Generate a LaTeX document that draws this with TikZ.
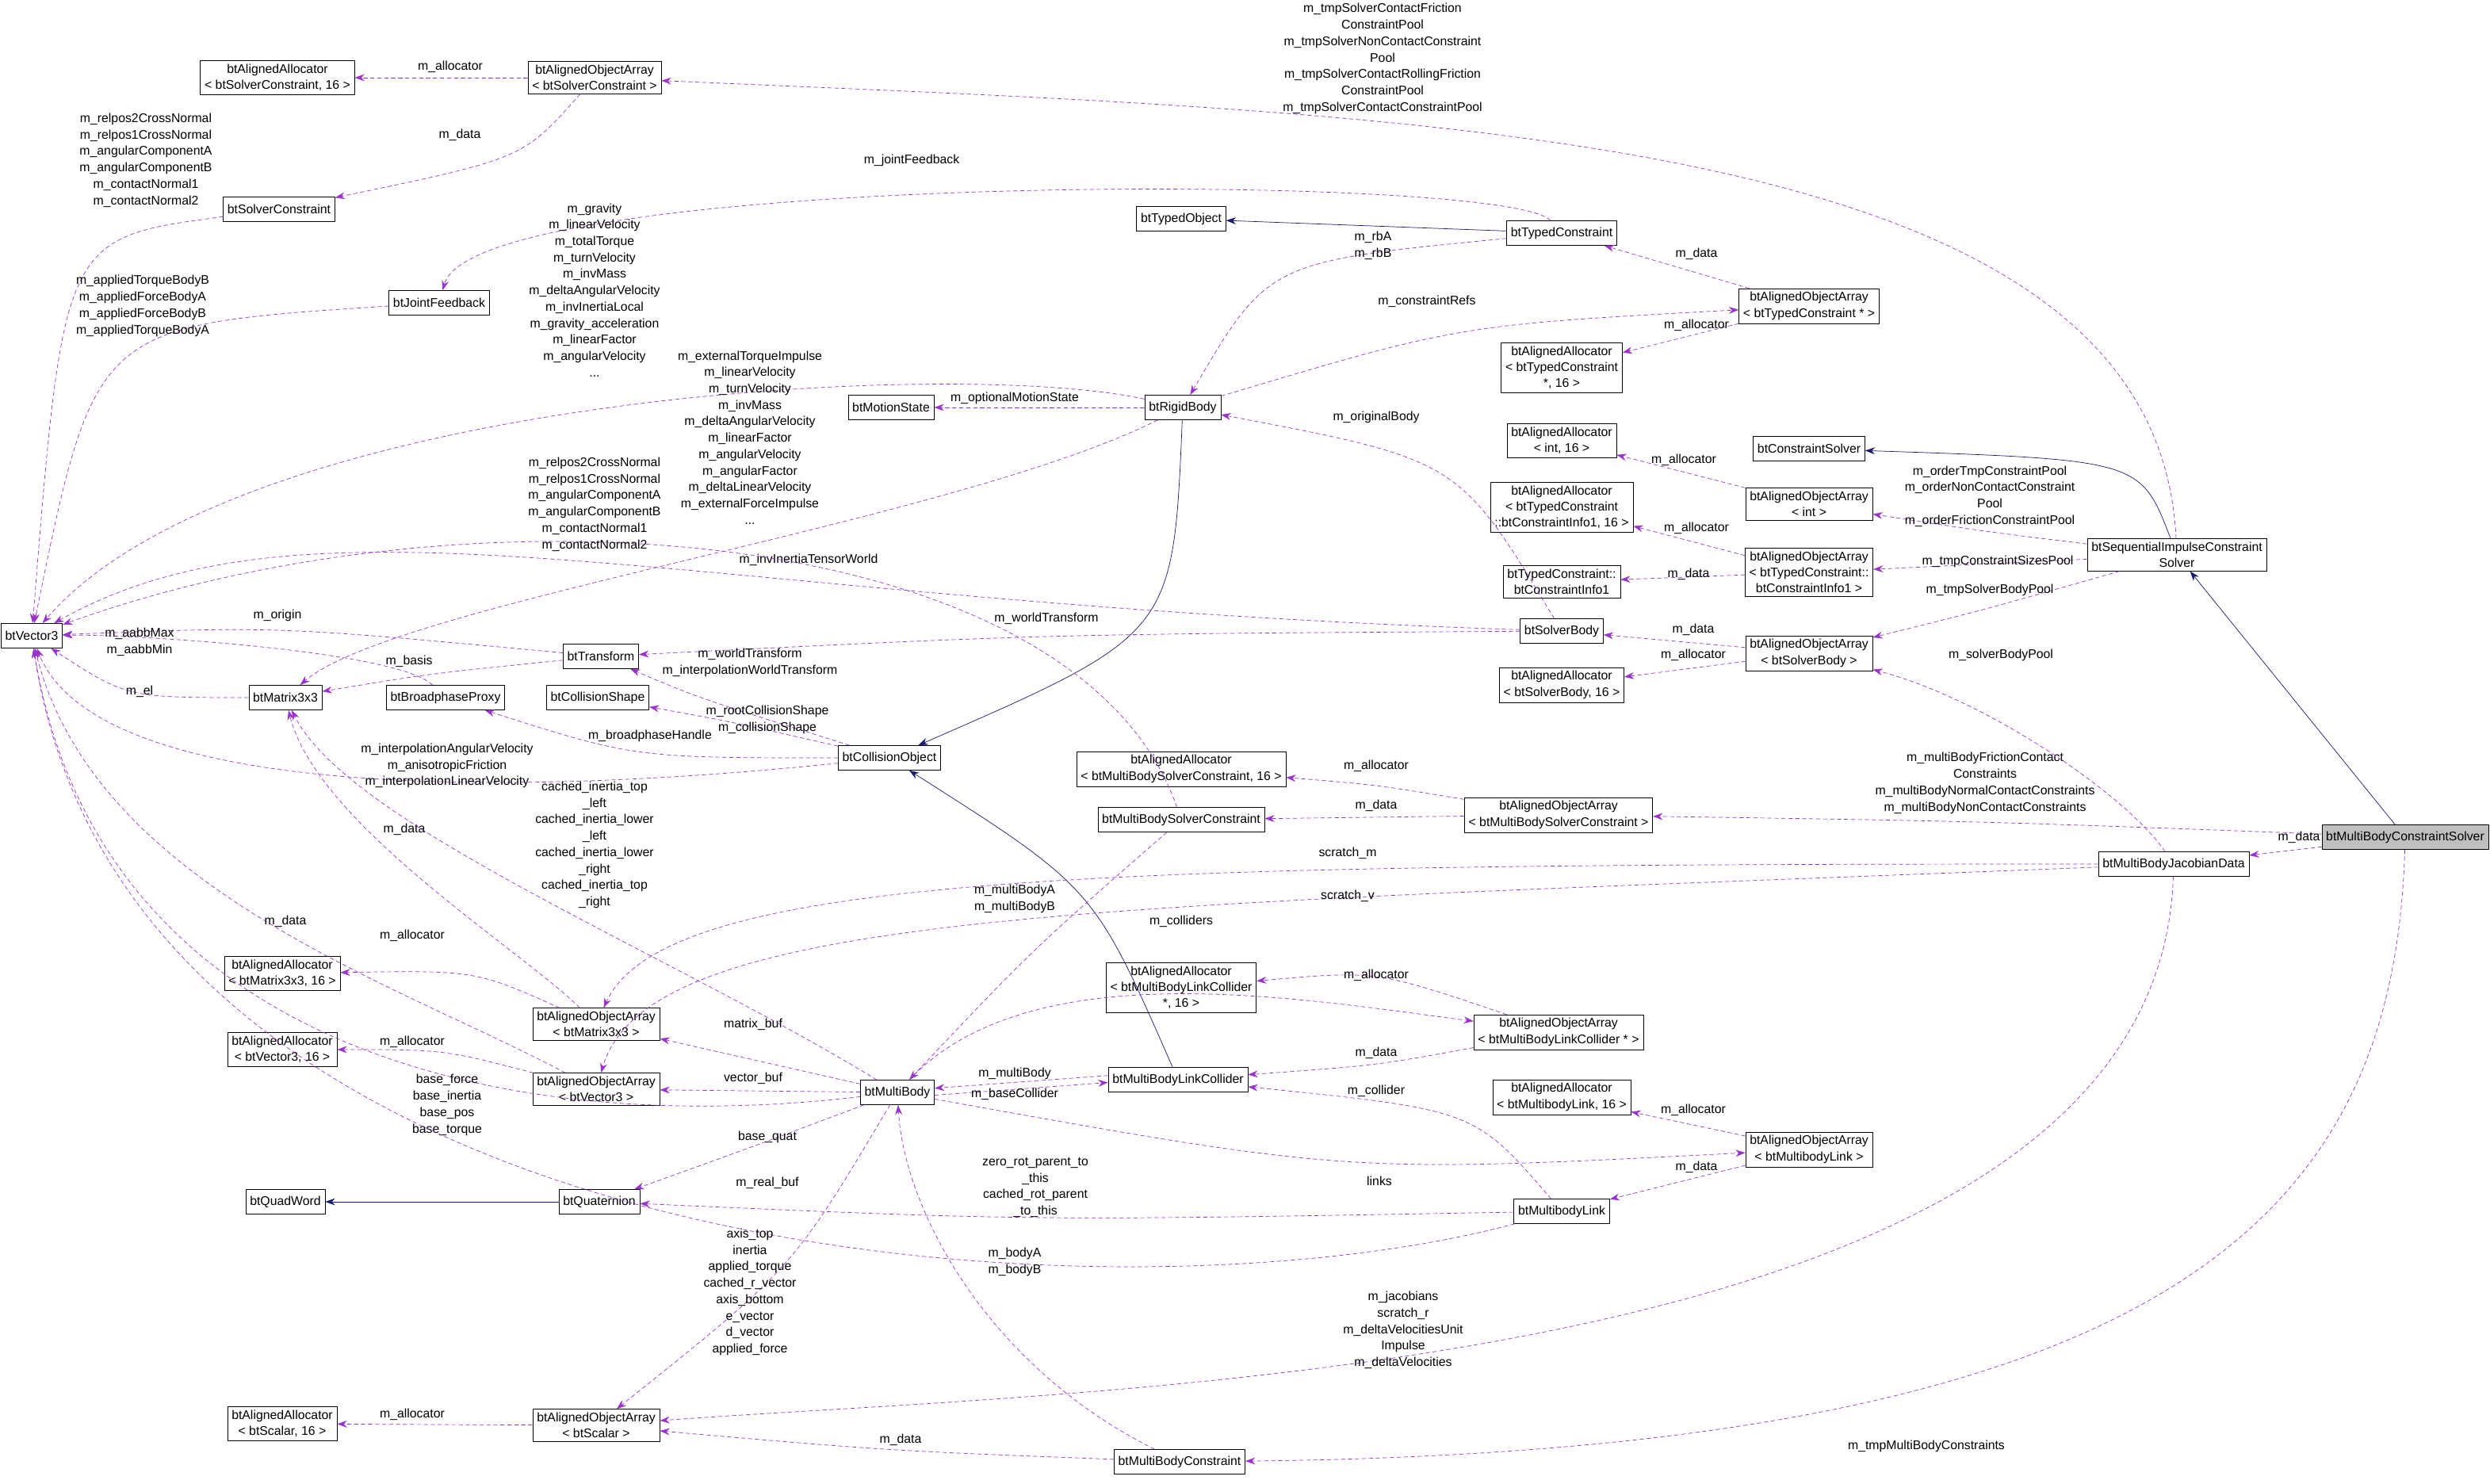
\documentclass[tikz,border=0pt]{standalone}
\usepackage{fontspec}
\setmainfont{Liberation Sans}
\usetikzlibrary{arrows.meta}
\definecolor{depcol}{HTML}{9A32CD}
\definecolor{inhcol}{HTML}{191970}
\tikzset{
  cls/.style={draw, rectangle, align=center, inner xsep=3pt, inner ysep=2.5pt, minimum height=0.62cm, font=\fontsize{9}{11.5}\selectfont},
  lbl/.style={align=center, inner sep=0.5pt, font=\fontsize{9}{11.8}\selectfont},
  dep/.style={draw=depcol, dash pattern=on 3pt off 2pt, -{Stealth[length=7pt,width=5pt]}},
  inh/.style={draw=inhcol, -{Stealth[length=7pt,width=5pt]}},
}
\begin{document}
\begin{tikzpicture}[x=0.04cm, y=-0.04cm]
\useasboundingbox (0,0) rectangle (1570.5,936);
% classes
\node[cls] (vec3) at (20,401) {btVector3};
\node[cls] (aaSolverConstraint) at (175,49) {btAlignedAllocator\\< btSolverConstraint, 16 >};
\node[cls] (aoaSolverConstraint) at (375,49) {btAlignedObjectArray\\< btSolverConstraint >};
\node[cls] (solverConstraint) at (176,132) {btSolverConstraint};
\node[cls] (jointFeedback) at (277,191) {btJointFeedback};
\node[cls] (typedObject) at (745,138) {btTypedObject};
\node[cls] (typedConstraint) at (985,147) {btTypedConstraint};
\node[cls] (aoaTypedConstraint) at (1141,193) {btAlignedObjectArray\\< btTypedConstraint * >};
\node[cls] (aaTypedConstraint) at (985,232) {btAlignedAllocator\\< btTypedConstraint\\*, 16 >};
\node[cls] (motionState) at (562,257) {btMotionState};
\node[cls] (rigidBody) at (746,257) {btRigidBody};
\node[cls] (aaInt) at (985,278) {btAlignedAllocator\\< int, 16 >};
\node[cls] (constraintSolver) at (1141,283) {btConstraintSolver};
\node[cls] (aoaInt) at (1141,318) {btAlignedObjectArray\\< int >};
\node[cls] (aaInfo1) at (985,320) {btAlignedAllocator\\< btTypedConstraint\\::btConstraintInfo1, 16 >};
\node[cls] (aoaInfo1) at (1141,361) {btAlignedObjectArray\\< btTypedConstraint::\\btConstraintInfo1 >};
\node[cls] (info1) at (985,367) {btTypedConstraint::\\btConstraintInfo1};
\node[cls] (seqImpulse) at (1373,350) {btSequentialImpulseConstraint\\Solver};
\node[cls] (solverBody) at (985,398) {btSolverBody};
\node[cls] (aoaSolverBody) at (1141,412) {btAlignedObjectArray\\< btSolverBody >};
\node[cls] (aaSolverBody) at (985,432) {btAlignedAllocator\\< btSolverBody, 16 >};
\node[cls] (transform) at (379,414) {btTransform};
\node[cls] (mat3) at (180,440) {btMatrix3x3};
\node[cls] (bpProxy) at (281,440) {btBroadphaseProxy};
\node[cls] (collShape) at (377,440) {btCollisionShape};
\node[cls] (collObject) at (561,478) {btCollisionObject};
\node[cls] (aaMbSolverConstraint) at (745,485) {btAlignedAllocator\\< btMultiBodySolverConstraint, 16 >};
\node[cls] (mbSolverConstraint) at (745,517) {btMultiBodySolverConstraint};
\node[cls] (aoaMbSolverConstraint) at (983,514) {btAlignedObjectArray\\< btMultiBodySolverConstraint >};
\node[cls, fill=black!25] (mbConstraintSolver) at (1517,528) {btMultiBodyConstraintSolver};
\node[cls] (jacobianData) at (1371,545) {btMultiBodyJacobianData};
\node[cls] (aaMat3) at (178,614) {btAlignedAllocator\\< btMatrix3x3, 16 >};
\node[cls] (aoaMat3) at (376,646) {btAlignedObjectArray\\< btMatrix3x3 >};
\node[cls] (aaLinkCollider) at (745,623) {btAlignedAllocator\\< btMultiBodyLinkCollider\\*, 16 >};
\node[cls] (aoaLinkCollider) at (983,651) {btAlignedObjectArray\\< btMultiBodyLinkCollider * >};
\node[cls] (aaVec3) at (178,662) {btAlignedAllocator\\< btVector3, 16 >};
\node[cls] (aoaVec3) at (376,687) {btAlignedObjectArray\\< btVector3 >};
\node[cls] (multiBody) at (566,689) {btMultiBody};
\node[cls] (linkCollider) at (743,681) {btMultiBodyLinkCollider};
\node[cls] (aaLink) at (985,692) {btAlignedAllocator\\< btMultibodyLink, 16 >};
\node[cls] (aoaLink) at (1141,725) {btAlignedObjectArray\\< btMultibodyLink >};
\node[cls] (quadWord) at (180,758) {btQuadWord};
\node[cls] (quaternion) at (378,758) {btQuaternion};
\node[cls] (mbLink) at (985,764) {btMultibodyLink};
\node[cls] (aaScalar) at (178,898) {btAlignedAllocator\\< btScalar, 16 >};
\node[cls] (aoaScalar) at (376,899) {btAlignedObjectArray\\< btScalar >};
\node[cls] (mbConstraint) at (744,922) {btMultiBodyConstraint};
% inheritance
\draw[inh] (typedConstraint) -- (typedObject);
\draw[inh] (rigidBody) .. controls (740,400) .. (collObject);
\draw[inh] (seqImpulse) .. controls (1350,290) .. (constraintSolver);
\draw[inh] (mbConstraintSolver) -- (seqImpulse);
\draw[inh] (linkCollider) .. controls (690,560) .. (collObject);
\draw[inh] (quaternion) -- (quadWord);
% members
\draw[dep] (aoaSolverConstraint) -- (aaSolverConstraint);
\node[lbl] (l1) at (284,42) {m\_allocator};
\draw[dep] (aoaSolverConstraint) .. controls (330,100) .. (solverConstraint);
\node[lbl] (l2) at (290,85) {m\_data};
\draw[dep] (solverConstraint) .. controls (40,150) .. (vec3);
\node[lbl] (l3) at (92,101) {m\_relpos2CrossNormal\\m\_relpos1CrossNormal\\m\_angularComponentA\\m\_angularComponentB\\m\_contactNormal1\\m\_contactNormal2};
\draw[dep] (jointFeedback) .. controls (60,205) .. (vec3);
\node[lbl] (l4) at (90,193) {m\_appliedTorqueBodyB\\m\_appliedForceBodyA\\m\_appliedForceBodyB\\m\_appliedTorqueBodyA};
\draw[dep] (typedConstraint) .. controls (950,108) and (300,108) .. (jointFeedback);
\node[lbl] (l5) at (575,101) {m\_jointFeedback};
\draw[dep] (typedConstraint) .. controls (800,165) .. (rigidBody);
\node[lbl] (l6) at (866,155) {m\_rbA\\m\_rbB};
\draw[dep] (aoaTypedConstraint) -- (typedConstraint);
\node[lbl] (l7) at (1070,160) {m\_data};
\draw[dep] (aoaTypedConstraint) -- (aaTypedConstraint);
\node[lbl] (l8) at (1070,205) {m\_allocator};
\draw[dep] (rigidBody) .. controls (920,205) .. (aoaTypedConstraint);
\node[lbl] (l9) at (900,190) {m\_constraintRefs};
\draw[dep] (rigidBody) -- (motionState);
\node[lbl] (l10) at (640,251) {m\_optionalMotionState};
\draw[dep] (rigidBody) .. controls (600,225) and (150,250) .. (vec3);
\node[lbl] (l11) at (375,183) {m\_gravity\\m\_linearVelocity\\m\_totalTorque\\m\_turnVelocity\\m\_invMass\\m\_deltaAngularVelocity\\m\_invInertiaLocal\\m\_gravity\_acceleration\\m\_linearFactor\\m\_angularVelocity\\...};
\draw[dep] (rigidBody) .. controls (600,330) and (250,380) .. (mat3);
\node[lbl] (l12) at (510,353) {m\_invInertiaTensorWorld};
\draw[dep] (solverBody) .. controls (920,290) .. (rigidBody);
\node[lbl] (l13) at (868,263) {m\_originalBody};
\draw[dep] (solverBody) .. controls (430,380) and (200,300) .. (vec3);
\node[lbl] (l14) at (473,276) {m\_externalTorqueImpulse\\m\_linearVelocity\\m\_turnVelocity\\m\_invMass\\m\_deltaAngularVelocity\\m\_linearFactor\\m\_angularVelocity\\m\_angularFactor\\m\_deltaLinearVelocity\\m\_externalForceImpulse\\...};
\draw[dep] (solverBody) .. controls (660,400) .. (transform);
\node[lbl] (l15) at (660,390) {m\_worldTransform};
\draw[dep] (aoaInt) -- (aaInt);
\node[lbl] (l16) at (1062,290) {m\_allocator};
\draw[dep] (seqImpulse) .. controls (1250,335) .. (aoaInt);
\node[lbl] (l17) at (1255,313) {m\_orderTmpConstraintPool\\m\_orderNonContactConstraint\\Pool\\m\_orderFrictionConstraintPool};
\draw[dep] (seqImpulse) .. controls (1360,80) and (900,72) .. (aoaSolverConstraint);
\node[lbl] (l18) at (872,37) {m\_tmpSolverContactFriction\\ConstraintPool\\m\_tmpSolverNonContactConstraint\\Pool\\m\_tmpSolverContactRollingFriction\\ConstraintPool\\m\_tmpSolverContactConstraintPool};
\draw[dep] (aoaInfo1) -- (aaInfo1);
\node[lbl] (l19) at (1070,333) {m\_allocator};
\draw[dep] (aoaInfo1) -- (info1);
\node[lbl] (l20) at (1065,362) {m\_data};
\draw[dep] (seqImpulse) -- (aoaInfo1);
\node[lbl] (l21) at (1260,354) {m\_tmpConstraintSizesPool};
\draw[dep] (seqImpulse) .. controls (1250,385) .. (aoaSolverBody);
\node[lbl] (l22) at (1255,372) {m\_tmpSolverBodyPool};
\draw[dep] (aoaSolverBody) -- (solverBody);
\node[lbl] (l23) at (1068,397) {m\_data};
\draw[dep] (aoaSolverBody) -- (aaSolverBody);
\node[lbl] (l24) at (1068,413) {m\_allocator};
\draw[dep] (transform) .. controls (175,395) .. (vec3);
\node[lbl] (l25) at (175,388) {m\_origin};
\draw[dep] (transform) .. controls (270,425) .. (mat3);
\node[lbl] (l26) at (258,417) {m\_basis};
\draw[dep] (mat3) .. controls (80,440) .. (vec3);
\node[lbl] (l27) at (88,436) {m\_el};
\draw[dep] (collObject) .. controls (440,440) .. (transform);
\node[lbl] (l28) at (473,418) {m\_worldTransform\\m\_interpolationWorldTransform};
\draw[dep] (collObject) .. controls (460,455) .. (collShape);
\node[lbl] (l29) at (484,454) {m\_rootCollisionShape\\m\_collisionShape};
\draw[dep] (collObject) .. controls (400,478) .. (bpProxy);
\node[lbl] (l30) at (410,464) {m\_broadphaseHandle};
\draw[dep] (collObject) .. controls (300,505) and (60,500) .. (vec3);
\node[lbl] (l31) at (282,483) {m\_interpolationAngularVelocity\\m\_anisotropicFriction\\m\_interpolationLinearVelocity};
\draw[dep] (bpProxy) .. controls (250,410) and (80,400) .. (vec3);
\node[lbl] (l32) at (88,405) {m\_aabbMax\\m\_aabbMin};
\draw[dep] (aoaMbSolverConstraint) .. controls (868,495) .. (aaMbSolverConstraint);
\node[lbl] (l33) at (868,483) {m\_allocator};
\draw[dep] (aoaMbSolverConstraint) -- (mbSolverConstraint);
\node[lbl] (l34) at (868,508) {m\_data};
\draw[dep] (mbConstraintSolver) .. controls (1250,518) .. (aoaMbSolverConstraint);
\node[lbl] (l35) at (1252,494) {m\_multiBodyFrictionContact\\Constraints\\m\_multiBodyNormalContactConstraints\\m\_multiBodyNonContactConstraints};
\draw[dep] (mbConstraintSolver) -- (jacobianData);
\node[lbl] (l36) at (1450,528) {m\_data};
\draw[dep] (mbConstraintSolver) .. controls (1510,760) and (1380,915) .. (mbConstraint);
\node[lbl] (l37) at (1215,912) {m\_tmpMultiBodyConstraints};
\draw[dep] (jacobianData) .. controls (1340,500) and (1250,440) .. (aoaSolverBody);
\node[lbl] (l38) at (1262,413) {m\_solverBodyPool};
\draw[dep] (jacobianData) .. controls (700,545) and (420,550) .. (aoaMat3);
\node[lbl] (l39) at (850,538) {scratch\_m};
\draw[dep] (jacobianData) .. controls (700,572) and (410,572) .. (aoaVec3);
\node[lbl] (l40) at (850,565) {scratch\_v};
\draw[dep] (jacobianData) .. controls (1360,870) and (700,875) .. (aoaScalar);
\node[lbl] (l41) at (885,839) {m\_jacobians\\scratch\_r\\m\_deltaVelocitiesUnit\\Impulse\\m\_deltaVelocities};
\draw[dep] (mbSolverConstraint) .. controls (650,600) .. (multiBody);
\node[lbl] (l42) at (640,567) {m\_multiBodyA\\m\_multiBodyB};
\draw[dep] (mbSolverConstraint) .. controls (680,330) and (300,300) .. (vec3);
\node[lbl] (l43) at (375,318) {m\_relpos2CrossNormal\\m\_relpos1CrossNormal\\m\_angularComponentA\\m\_angularComponentB\\m\_contactNormal1\\m\_contactNormal2};
\draw[dep] (aoaMat3) .. controls (300,612) .. (aaMat3);
\node[lbl] (l44) at (260,590) {m\_allocator};
\draw[dep] (aoaMat3) .. controls (330,600) and (200,520) .. (mat3);
\node[lbl] (l45) at (255,523) {m\_data};
\draw[dep] (aoaVec3) .. controls (280,662) .. (aaVec3);
\node[lbl] (l46) at (260,657) {m\_allocator};
\draw[dep] (aoaVec3) .. controls (250,620) and (60,560) .. (vec3);
\node[lbl] (l47) at (180,581) {m\_data};
\draw[dep] (aoaLinkCollider) .. controls (868,612) .. (aaLinkCollider);
\node[lbl] (l48) at (868,615) {m\_allocator};
\draw[dep] (aoaLinkCollider) .. controls (868,672) .. (linkCollider);
\node[lbl] (l49) at (868,664) {m\_data};
\draw[dep] (multiBody) .. controls (650,600) and (820,630) .. (aoaLinkCollider);
\node[lbl] (l50) at (745,581) {m\_colliders};
\draw[dep] (multiBody) -- (aoaMat3);
\node[lbl] (l51) at (475,646) {matrix\_buf};
\draw[dep] (multiBody) -- (aoaVec3);
\node[lbl] (l52) at (475,680) {vector\_buf};
\draw[dep] ([yshift=-2pt]multiBody.east) -- ([yshift=-2pt]linkCollider.west);
\node[lbl] (l53) at (640,690) {m\_baseCollider};
\draw[dep] ([yshift=3pt]linkCollider.west) -- ([yshift=3pt]multiBody.east);
\node[lbl] (l54) at (640,677) {m\_multiBody};
\draw[dep] (multiBody) .. controls (300,720) and (60,650) .. (vec3);
\node[lbl] (l55) at (282,697) {base\_force\\base\_inertia\\base\_pos\\base\_torque};
\draw[dep] (multiBody) .. controls (470,725) .. (quaternion);
\node[lbl] (l56) at (484,717) {base\_quat};
\draw[dep] (multiBody) .. controls (500,800) .. (aoaScalar);
\node[lbl] (l57) at (484,746) {m\_real\_buf};
\draw[dep] (multiBody) .. controls (850,740) .. (aoaLink);
\node[lbl] (l58) at (870,745) {links};
\draw[dep] (multiBody) .. controls (420,600) and (220,520) .. (mat3);
\node[lbl] (l59) at (375,533) {cached\_inertia\_top\\\_left\\cached\_inertia\_lower\\\_left\\cached\_inertia\_lower\\\_right\\cached\_inertia\_top\\\_right};
\draw[dep] (aoaLink) -- (aaLink);
\node[lbl] (l60) at (1068,700) {m\_allocator};
\draw[dep] (aoaLink) -- (mbLink);
\node[lbl] (l61) at (1070,736) {m\_data};
\draw[dep] (mbLink) .. controls (930,700) .. (linkCollider);
\node[lbl] (l62) at (868,688) {m\_collider};
\draw[dep] (mbLink) .. controls (650,770) .. (quaternion);
\node[lbl] (l63) at (653,749) {zero\_rot\_parent\_to\\\_this\\cached\_rot\_parent\\\_to\_this};
\draw[dep] (mbLink) .. controls (700,840) and (80,800) .. (vec3);
\node[lbl] (l64) at (473,815) {axis\_top\\inertia\\applied\_torque\\cached\_r\_vector\\axis\_bottom\\e\_vector\\d\_vector\\applied\_force};
\draw[dep] (aoaScalar) -- (aaScalar);
\node[lbl] (l65) at (260,892) {m\_allocator};
\draw[dep] (mbConstraint) .. controls (560,915) .. (aoaScalar);
\node[lbl] (l66) at (568,908) {m\_data};
\draw[dep] (mbConstraint) .. controls (620,860) and (570,760) .. (multiBody);
\node[lbl] (l67) at (640,796) {m\_bodyA\\m\_bodyB};
\end{tikzpicture}
\end{document}
